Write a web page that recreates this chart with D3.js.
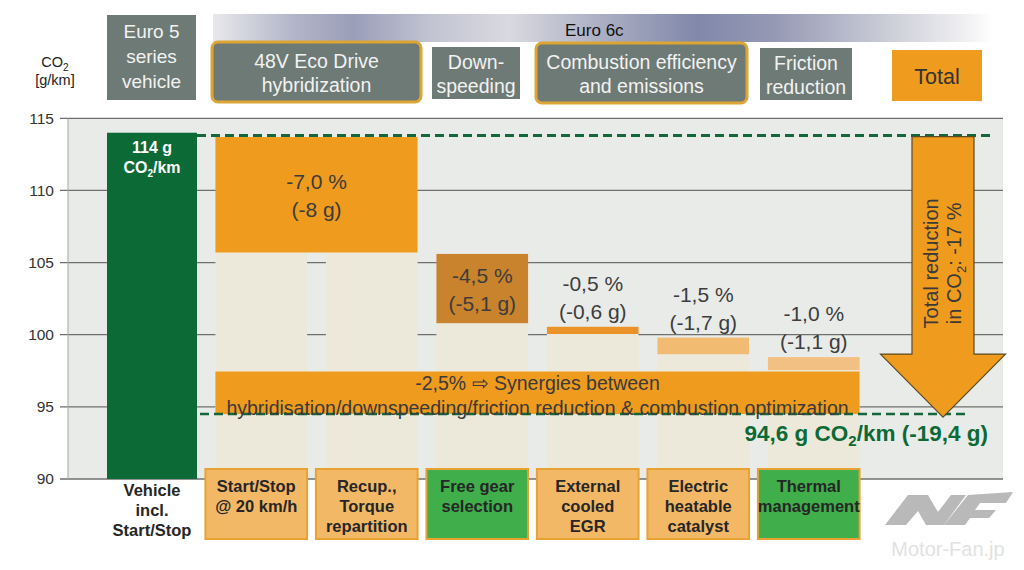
<!DOCTYPE html>
<html lang="en">
<head>
<meta charset="UTF-8">
<title>CO2 reduction Euro 5 to Euro 6c</title>
<style>
  body { margin: 0; background: #fff; }
  svg { display: block; font-family: "Liberation Sans", Arial, sans-serif; }
</style>
</head>
<body>
<div id="chart"></div>
<script src="https://cdn.jsdelivr.net/npm/d3@7"></script>
<script>
// values
const yTicks = [90, 95, 100, 105, 110, 115];
const vehicleValue = 114;
const startLevel = 113.8;
const finalLevel = 94.5;
const vehicleLabel = ["Vehicle", "incl.", "Start/Stop"];
const stepLabels = [
  ["Start/Stop", "@ 20 km/h"],
  ["Recup.,", "Torque", "repartition"],
  ["Free gear", "selection"],
  ["External", "cooled", "EGR"],
  ["Electric", "heatable", "catalyst"],
  ["Thermal", "management"]
];
const stepKind = ["orange", "orange", "green", "orange", "orange", "green"];
// first / last step index, top and bottom value
const reductionSpan = [[0, 1], [2, 2], [3, 3], [4, 4], [5, 5]];
const reductionTop = [113.7, 105.6, 100.55, 99.8, 98.45];
const reductionBottom = [105.7, 100.8, 100.05, 98.65, 97.55];
const reductionPct = ["-7,0 %", "-4,5 %", "-0,5 %", "-1,5 %", "-1,0 %"];
const reductionGrams = ["(-8 g)", "(-5,1 g)", "(-0,6 g)", "(-1,7 g)", "(-1,1 g)"];
const synergyTop = 97.45, synergyBottom = 94.5;
const synergyText = ["-2,5%  \u21e8 Synergies between",
  "hybridisation/downspeeding/friction reduction & combustion optimization"];
const headerGroups = [
  { lines: ["48V Eco Drive", "hybridization"], framed: true },
  { lines: ["Down-", "speeding"], framed: false },
  { lines: ["Combustion efficiency", "and emissions"], framed: true },
  { lines: ["Friction", "reduction"], framed: false }
];

// styles
const reductionColor = ["#ef9b1e", "#c8832c", "#eb9328", "#f2bb72", "#f3c083"];
const boxFill = { orange: "#f3b865", green: "#3fae4b" };
const darkGreen = "#0b6a36";
const orange = "#ef9b1e";
const grey = "#6e7a75";

const width = 1024, height = 570;
const svg = d3.select("#chart").append("svg")
  .attr("width", width).attr("height", height);

const plotLeft = 68, plotRight = 1003;
const y = d3.scaleLinear().domain([90, 115]).range([479, 118.3]);
const x = d3.scaleBand().domain(d3.range(stepLabels.length))
  .range([201, 864]).paddingInner(0.08).paddingOuter(0.04);
const xVehicle = d3.scaleBand().domain(["vehicle"]).range([102, 202]);
const inset = 10;

// defs
const defs = svg.append("defs");
const grad = defs.append("linearGradient").attr("id", "euro6");
[[0, "#e8e8ec"], [0.1, "#b4b7c9"], [0.18, "#9a9eb9"], [0.28, "#c2c4d2"],
 [0.38, "#d9d9e0"], [0.48, "#b2b5c8"], [0.62, "#8188a9"], [0.72, "#9599b4"],
 [0.85, "#c6c8d4"], [0.96, "#eeeef0"], [1, "#ffffff"]]
  .forEach(([o, c]) => grad.append("stop").attr("offset", o).attr("stop-color", c));

// plot background
svg.append("rect").attr("x", plotLeft).attr("y", y(115))
  .attr("width", plotRight - plotLeft).attr("height", y(90) - y(115))
  .attr("fill", "#e9ebe8");

// gridlines + ticks
svg.append("g").selectAll("line").data(yTicks).join("line")
  .attr("x1", 60).attr("x2", plotRight)
  .attr("y1", d => y(d)).attr("y2", d => y(d))
  .attr("stroke", "#6f6f6f").attr("stroke-width", 1.3);
svg.append("line").attr("x1", plotLeft).attr("x2", plotLeft)
  .attr("y1", y(115)).attr("y2", y(90)).attr("stroke", "#a8a8a8");
svg.append("g").selectAll("text").data(yTicks).join("text")
  .attr("x", 54).attr("y", d => y(d)).attr("dy", "0.35em")
  .attr("text-anchor", "end").attr("font-size", 15.5).attr("fill", "#333")
  .text(d => d);

// pale step columns
svg.append("g").selectAll("rect").data(d3.range(stepLabels.length)).join("rect")
  .attr("x", i => x(i) + inset)
  .attr("width", x.bandwidth() - inset)
  .attr("y", i => {
    const k = reductionSpan.findIndex(s => i >= s[0] && i <= s[1]);
    return y(reductionBottom[k]);
  })
  .attr("height", i => {
    const k = reductionSpan.findIndex(s => i >= s[0] && i <= s[1]);
    return y(90) - y(reductionBottom[k]);
  })
  .attr("fill", "#ece9da");

// vehicle bar
const vcx = xVehicle("vehicle") + xVehicle.bandwidth() / 2;
svg.append("rect")
  .attr("x", xVehicle("vehicle") + 5).attr("width", xVehicle.bandwidth() - 10)
  .attr("y", y(vehicleValue)).attr("height", y(90) - y(vehicleValue))
  .attr("fill", darkGreen);
svg.append("text").attr("text-anchor", "middle")
  .attr("font-size", 16).attr("font-weight", "bold").attr("fill", "#fff")
  .attr("x", vcx).attr("y", y(vehicleValue) + 20).text("114 g");
const vt2 = svg.append("text").attr("text-anchor", "middle")
  .attr("font-size", 16).attr("font-weight", "bold").attr("fill", "#fff")
  .attr("x", vcx).attr("y", y(vehicleValue) + 40);
vt2.append("tspan").text("CO");
vt2.append("tspan").attr("font-size", 10).attr("dy", 4).text("2");
vt2.append("tspan").attr("dy", -4).text("/km");

// reduction bars
const barX0 = i => x(reductionSpan[i][0]) + inset;
const barX1 = i => x(reductionSpan[i][1]) + x.bandwidth();
svg.append("g").selectAll("rect").data(d3.range(reductionTop.length)).join("rect")
  .attr("x", barX0).attr("width", i => barX1(i) - barX0(i))
  .attr("y", i => y(reductionTop[i]))
  .attr("height", i => y(reductionBottom[i]) - y(reductionTop[i]))
  .attr("fill", i => reductionColor[i]);

reductionTop.forEach((top, i) => {
  const cx = (barX0(i) + barX1(i)) / 2;
  const big = y(reductionBottom[i]) - y(top) > 40;
  const y1 = big ? (y(top) + y(reductionBottom[i])) / 2 - 6 : y(top) - 36;
  const g = svg.append("text").attr("text-anchor", "middle")
    .attr("font-size", 21).attr("fill", "#3c3c3c");
  g.append("tspan").attr("x", cx).attr("y", y1).text(reductionPct[i]);
  g.append("tspan").attr("x", cx).attr("y", y1 + 28).text(reductionGrams[i]);
});

// synergy bar
const synX0 = x(0) + inset, synX1 = x(stepLabels.length - 1) + x.bandwidth();
svg.append("rect").attr("x", synX0).attr("width", synX1 - synX0)
  .attr("y", y(synergyTop)).attr("height", y(synergyBottom) - y(synergyTop))
  .attr("fill", orange);

// dashed reference lines
svg.append("line").attr("x1", xVehicle.range()[1] - 5).attr("x2", 992)
  .attr("y1", y(startLevel)).attr("y2", y(startLevel))
  .attr("stroke", "#16663b").attr("stroke-width", 3).attr("stroke-dasharray", "9,5");
svg.append("line").attr("x1", xVehicle.range()[1] - 2).attr("x2", 968)
  .attr("y1", y(finalLevel)).attr("y2", y(finalLevel))
  .attr("stroke", "#16663b").attr("stroke-width", 2.5).attr("stroke-dasharray", "9,5");

svg.append("g").selectAll("text").data(synergyText).join("text")
  .attr("x", (synX0 + synX1) / 2)
  .attr("y", (d, i) => y(synergyTop) + 18 + i * 25)
  .attr("text-anchor", "middle").attr("font-size", 19.5).attr("fill", "#3a3a3a")
  .text(d => d);

// final value
const fv = svg.append("text").attr("x", 988).attr("y", y(finalLevel) + 27)
  .attr("text-anchor", "end").attr("font-size", 22.5).attr("font-weight", "bold")
  .attr("fill", darkGreen);
fv.append("tspan").text("94,6 g CO");
fv.append("tspan").attr("font-size", 15).attr("dy", 5).text("2");
fv.append("tspan").attr("dy", -5).text("/km (-19,4 g)");

// total arrow
const ax = 943, shaft = 31, head = 62.5;
const aTop = y(startLevel) + 1, aTip = y(finalLevel) + 3, aNeck = aTip - 63;
svg.append("path")
  .attr("d", d3.line()([[ax - shaft, aTop], [ax + shaft, aTop], [ax + shaft, aNeck],
    [ax + head, aNeck], [ax, aTip], [ax - head, aNeck], [ax - shaft, aNeck]]) + "Z")
  .attr("fill", orange).attr("stroke", "#5b4a22").attr("stroke-width", 1.2);
const arrowMid = `translate(${ax},${(aTop + aNeck) / 2 + 18}) rotate(-90)`;
svg.append("text").attr("text-anchor", "middle").attr("font-size", 20)
  .attr("fill", "#3a3a3a").attr("transform", arrowMid)
  .attr("x", 0).attr("y", -5).text("Total reduction");
const at2 = svg.append("text").attr("text-anchor", "middle").attr("font-size", 20)
  .attr("fill", "#3a3a3a").attr("transform", arrowMid)
  .attr("x", 0).attr("y", 18);
at2.append("tspan").text("in CO");
at2.append("tspan").attr("font-size", 13).attr("dy", 5).text("2");
at2.append("tspan").attr("dy", -5).text(": -17 %");

// bottom category boxes
const boxTop = y(90) - 10, boxH = 70;
const boxes = svg.append("g").selectAll("g").data(stepLabels).join("g");
boxes.append("rect")
  .attr("x", (d, i) => x(i)).attr("y", boxTop)
  .attr("width", x.bandwidth()).attr("height", boxH)
  .attr("fill", (d, i) => boxFill[stepKind[i]])
  .attr("stroke", "#e8a233").attr("stroke-width", 2);
boxes.each(function (lines, i) {
  d3.select(this).selectAll("text").data(lines).join("text")
    .attr("x", x(i) + x.bandwidth() / 2)
    .attr("y", (d, j) => boxTop + 23 + j * 20)
    .attr("text-anchor", "middle").attr("font-size", 16.5)
    .attr("font-weight", "bold").attr("fill", "#262626")
    .text(d => d);
});
svg.append("g").selectAll("text").data(vehicleLabel).join("text")
  .attr("x", vcx)
  .attr("y", (d, j) => y(90) + 17 + j * 20)
  .attr("text-anchor", "middle").attr("font-size", 16.5)
  .attr("font-weight", "bold").attr("fill", "#262626")
  .text(d => d);

// header
const co = svg.append("text").attr("x", 55).attr("y", 67)
  .attr("text-anchor", "middle").attr("font-size", 14.5).attr("fill", "#222");
co.append("tspan").text("CO");
co.append("tspan").attr("font-size", 10).attr("dy", 4).text("2");
svg.append("text").attr("x", 55).attr("y", 85).attr("text-anchor", "middle")
  .attr("font-size", 14.5).attr("fill", "#222").text("[g/km]");

svg.append("rect").attr("x", 107).attr("y", 15).attr("width", 89).attr("height", 85)
  .attr("fill", grey);
svg.append("g").selectAll("text").data(["Euro 5", "series", "vehicle"]).join("text")
  .attr("x", 151.5).attr("y", (d, i) => 38 + i * 25)
  .attr("text-anchor", "middle").attr("font-size", 19).attr("fill", "#f2f2f2")
  .text(d => d);

svg.append("rect").attr("x", 213).attr("y", 14).attr("width", 780).attr("height", 28)
  .attr("fill", "url(#euro6)");
svg.append("text").attr("x", 565).attr("y", 36).attr("font-size", 17)
  .attr("fill", "#111").text("Euro 6c");

const headerBoxes = [[212, 42, 209, 60], [432, 47, 88, 52], [536, 43, 211, 60], [760, 48, 92, 52]];
headerGroups.forEach((h, i) => {
  const [bx, by, bw, bh] = headerBoxes[i];
  svg.append("rect").attr("x", bx).attr("y", by).attr("width", bw).attr("height", bh)
    .attr("rx", h.framed ? 6 : 0)
    .attr("fill", grey)
    .attr("stroke", h.framed ? "#dca534" : "none").attr("stroke-width", 3);
  svg.append("g").selectAll("text").data(h.lines).join("text")
    .attr("x", bx + bw / 2).attr("y", (d, j) => by + bh / 2 - 4 + j * 24)
    .attr("text-anchor", "middle").attr("font-size", 19.5).attr("fill", "#f2f2f2")
    .text(d => d);
});
svg.append("rect").attr("x", 892).attr("y", 50).attr("width", 90).attr("height", 51)
  .attr("fill", orange);
svg.append("text").attr("x", 937).attr("y", 84).attr("text-anchor", "middle")
  .attr("font-size", 21.5).attr("fill", "#333").text("Total");

// watermark
const wm = svg.append("g").attr("fill", "#b9b9b9");
wm.append("path").attr("d", "M885,525 L908,495 L928,495 L938,512 L951,495 L966,495 L944,525 L926,525 L918,511 L906,525 Z");
wm.append("path").attr("d", "M944,525 L968,495 L1013,492 L1006,503 L980,503 L975,510 L996,510 L989,518 L970,518 L965,525 Z");
svg.append("text").attr("x", 948).attr("y", 556).attr("text-anchor", "middle")
  .attr("font-size", 20).attr("fill", "#e2e2e2").text("Motor-Fan.jp");
</script>
</body>
</html>
